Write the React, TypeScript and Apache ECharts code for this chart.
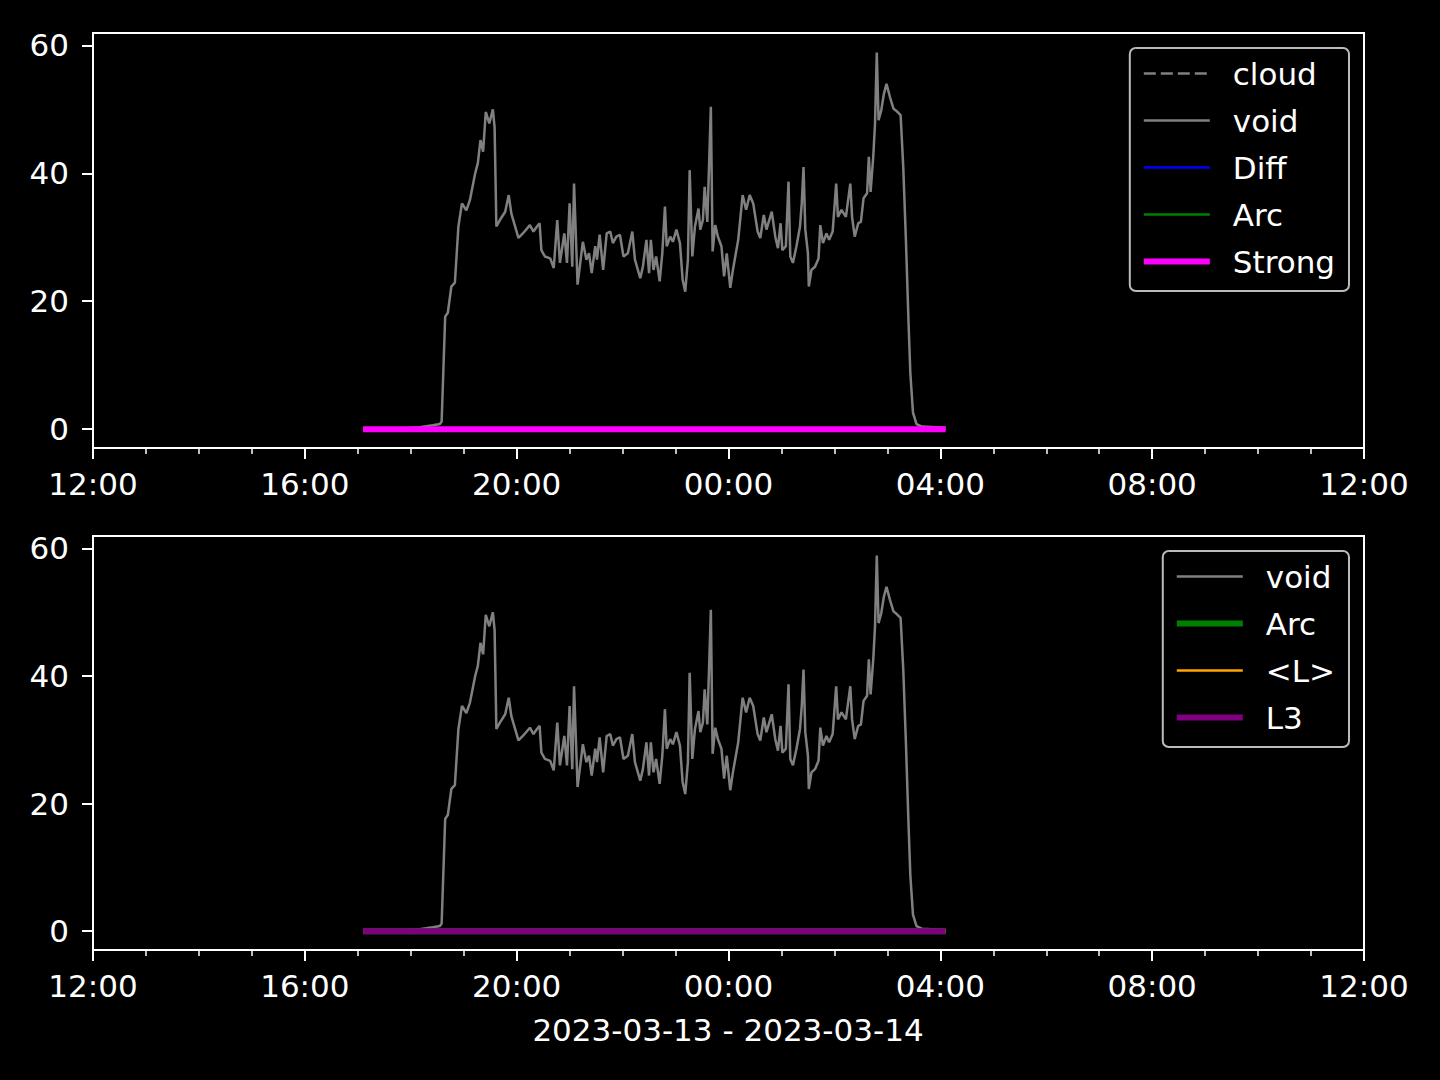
import React, { useEffect, useRef } from "react";
import * as echarts from "echarts";

// ---- axis ticks ----
const xMin = "2023-03-13 12:00";
const xMax = "2023-03-14 12:00";
const xTickLabels = [
  "2023-03-13 12:00",
  "2023-03-13 16:00",
  "2023-03-13 20:00",
  "2023-03-14 00:00",
  "2023-03-14 04:00",
  "2023-03-14 08:00",
  "2023-03-14 12:00",
];
const yTickValues = [0, 20, 40, 60];
const yMin = -2.95;
const yMax = 61.95;
const dateLabel = "2023-03-13 - 2023-03-14";

// ---- series data ----
const flatTimes = ["2023-03-13 17:06", "2023-03-14 04:06"];
const cloudValues = [0, 0];
const diffValues = [0, 0];
const arcValues = [0, 0];
const strongValues = [0, 0];
const lAvgValues = [0, 0];
const l3Values = [0, 0];

const voidTimes = [
  "2023-03-13 17:06", "2023-03-13 17:50", "2023-03-13 18:10", "2023-03-13 18:25", "2023-03-13 18:33",
  "2023-03-13 18:35", "2023-03-13 18:39", "2023-03-13 18:42", "2023-03-13 18:46", "2023-03-13 18:50",
  "2023-03-13 18:54", "2023-03-13 18:58", "2023-03-13 19:03", "2023-03-13 19:07", "2023-03-13 19:13",
  "2023-03-13 19:16", "2023-03-13 19:19", "2023-03-13 19:22", "2023-03-13 19:25", "2023-03-13 19:29",
  "2023-03-13 19:33", "2023-03-13 19:35", "2023-03-13 19:37", "2023-03-13 19:41", "2023-03-13 19:47",
  "2023-03-13 19:51", "2023-03-13 19:54", "2023-03-13 20:02", "2023-03-13 20:07", "2023-03-13 20:15",
  "2023-03-13 20:19", "2023-03-13 20:23", "2023-03-13 20:26", "2023-03-13 20:28", "2023-03-13 20:32",
  "2023-03-13 20:38", "2023-03-13 20:42", "2023-03-13 20:46", "2023-03-13 20:49", "2023-03-13 20:54",
  "2023-03-13 20:57", "2023-03-13 21:00", "2023-03-13 21:03", "2023-03-13 21:05", "2023-03-13 21:09",
  "2023-03-13 21:15", "2023-03-13 21:19", "2023-03-13 21:22", "2023-03-13 21:25", "2023-03-13 21:29",
  "2023-03-13 21:31", "2023-03-13 21:34", "2023-03-13 21:38", "2023-03-13 21:42", "2023-03-13 21:46",
  "2023-03-13 21:49", "2023-03-13 21:53", "2023-03-13 21:57", "2023-03-13 22:01", "2023-03-13 22:06",
  "2023-03-13 22:11", "2023-03-13 22:14", "2023-03-13 22:20", "2023-03-13 22:23", "2023-03-13 22:27",
  "2023-03-13 22:30", "2023-03-13 22:32", "2023-03-13 22:35", "2023-03-13 22:38", "2023-03-13 22:42",
  "2023-03-13 22:45", "2023-03-13 22:48", "2023-03-13 22:50", "2023-03-13 22:54", "2023-03-13 22:57",
  "2023-03-13 23:01", "2023-03-13 23:05", "2023-03-13 23:08", "2023-03-13 23:11", "2023-03-13 23:14",
  "2023-03-13 23:16", "2023-03-13 23:19", "2023-03-13 23:22", "2023-03-13 23:26", "2023-03-13 23:28",
  "2023-03-13 23:31", "2023-03-13 23:33", "2023-03-13 23:36", "2023-03-13 23:40", "2023-03-13 23:42",
  "2023-03-13 23:45", "2023-03-13 23:48", "2023-03-13 23:52", "2023-03-13 23:55", "2023-03-13 23:58",
  "2023-03-14 00:02", "2023-03-14 00:05", "2023-03-14 00:11", "2023-03-14 00:16", "2023-03-14 00:20",
  "2023-03-14 00:24", "2023-03-14 00:28", "2023-03-14 00:33", "2023-03-14 00:36", "2023-03-14 00:40",
  "2023-03-14 00:43", "2023-03-14 00:49", "2023-03-14 00:53", "2023-03-14 00:56", "2023-03-14 00:59",
  "2023-03-14 01:01", "2023-03-14 01:05", "2023-03-14 01:08", "2023-03-14 01:10", "2023-03-14 01:13",
  "2023-03-14 01:17", "2023-03-14 01:21", "2023-03-14 01:23", "2023-03-14 01:25", "2023-03-14 01:27",
  "2023-03-14 01:30", "2023-03-14 01:31", "2023-03-14 01:34", "2023-03-14 01:38", "2023-03-14 01:42",
  "2023-03-14 01:44", "2023-03-14 01:47", "2023-03-14 01:51", "2023-03-14 01:54", "2023-03-14 01:58",
  "2023-03-14 02:02", "2023-03-14 02:04", "2023-03-14 02:08", "2023-03-14 02:13", "2023-03-14 02:18",
  "2023-03-14 02:20", "2023-03-14 02:23", "2023-03-14 02:27", "2023-03-14 02:30", "2023-03-14 02:33",
  "2023-03-14 02:37", "2023-03-14 02:39", "2023-03-14 02:41", "2023-03-14 02:44", "2023-03-14 02:46",
  "2023-03-14 02:48", "2023-03-14 02:50", "2023-03-14 02:53", "2023-03-14 02:56", "2023-03-14 02:59",
  "2023-03-14 03:03", "2023-03-14 03:07", "2023-03-14 03:10", "2023-03-14 03:15", "2023-03-14 03:18",
  "2023-03-14 03:21", "2023-03-14 03:24", "2023-03-14 03:26", "2023-03-14 03:29", "2023-03-14 03:33",
  "2023-03-14 03:39", "2023-03-14 04:06",
];
const voidValues = [
  0.1, 0.1, 0.3, 0.6, 0.8,
  1.2, 17.6, 18.2, 22.3, 22.9,
  31.7, 35.3, 34.2, 35.8, 40.0,
  41.6, 45.2, 43.4, 49.6, 47.8,
  50.0, 47.2, 31.7, 32.7, 34.0,
  36.6, 33.7, 29.9, 30.6, 31.9,
  30.9, 31.7, 32.2, 28.0, 27.0,
  26.7, 25.2, 32.7, 26.0, 30.6,
  26.0, 35.3, 25.4, 38.4, 22.6,
  29.3, 26.5, 27.5, 24.4, 28.6,
  26.5, 30.4, 24.9, 30.6, 30.9,
  29.1, 30.1, 30.4, 27.0, 27.5,
  30.9, 26.5, 23.6, 25.4, 29.6,
  24.4, 29.6, 24.9, 27.0, 23.1,
  27.5, 34.8, 28.6, 30.1, 29.3,
  31.2, 29.1, 23.4, 21.5, 26.5,
  40.5, 27.0, 31.7, 34.5, 31.2,
  32.7, 37.9, 32.4, 50.4, 27.8,
  31.9, 30.1, 28.6, 23.9, 27.5,
  22.1, 24.9, 29.6, 36.6, 34.3,
  36.6, 35.3, 30.9, 29.9, 33.5,
  31.2, 34.0, 30.1, 28.3, 32.2,
  28.0, 28.6, 38.7, 27.0, 26.0,
  28.6, 31.7, 35.3, 41.0, 31.2,
  27.5, 22.3, 24.9, 25.4, 26.7,
  31.9, 29.1, 30.6, 29.6, 30.9,
  38.4, 33.2, 34.3, 33.2, 38.4,
  33.2, 30.1, 32.2, 32.4, 36.1,
  36.9, 42.6, 37.1, 42.6, 47.8,
  58.9, 48.3, 49.8, 52.4, 54.0,
  51.9, 50.1, 49.8, 49.1, 41.0,
  29.6, 16.6, 8.8, 2.6, 0.8,
  0.4, 0.2,
];

const topLegend = ["cloud", "void", "Diff", "Arc", "Strong"];
const bottomLegend = ["void_b", "Arc_b", "<L>", "L3"];

// ---- helpers ----
const ts = (s: string) => new Date(s.replace(" ", "T") + ":00").getTime();
const pairs = (times: string[], vals: number[]) => times.map((t, i) => [ts(t), vals[i]]);
const pad = (n: number) => (n < 10 ? "0" + n : "" + n);
const fmtTime = (v: number) => {
  const d = new Date(v);
  return pad(d.getHours()) + ":" + pad(d.getMinutes());
};

const FONT = "DejaVu Sans";
const FS = 31;

function buildOption() {
  const majorTicks = xTickLabels.map(ts);
  const minorTicks: number[] = [];
  for (let t = ts(xMin); t <= ts(xMax); t += 3600000) minorTicks.push(t);

  const grids = [
    { left: 93, top: 33, width: 1271, height: 415 },
    { left: 93, top: 536, width: 1271, height: 414 },
  ].map((g) => ({
    ...g,
    show: true,
    borderColor: "#ffffff",
    borderWidth: 2,
    backgroundColor: "transparent",
    containLabel: false,
    outerBoundsMode: "none",
  }));

  const xAxes: any[] = [];
  [0, 1].forEach((gi) => {
    xAxes.push({
      type: "value",
      gridIndex: gi,
      min: ts(xMin),
      max: ts(xMax),
      position: "bottom",
      axisLine: { show: false, onZero: false },
      splitLine: { show: false },
      axisTick: {
        show: true,
        customValues: majorTicks,
        length: 11,
        lineStyle: { color: "#ffffff", width: 2 },
      },
      axisLabel: {
        customValues: majorTicks,
        formatter: (v: number) => fmtTime(v),
        color: "#ffffff",
        fontSize: FS,
        fontFamily: FONT,
        margin: 20,
        showMinLabel: true,
        showMaxLabel: true,
        hideOverlap: false,
      },
    });
    xAxes.push({
      type: "value",
      gridIndex: gi,
      min: ts(xMin),
      max: ts(xMax),
      position: "bottom",
      axisLine: { show: false, onZero: false },
      splitLine: { show: false },
      axisLabel: { show: false },
      axisTick: {
        show: true,
        customValues: minorTicks,
        length: 6,
        lineStyle: { color: "#ffffff", width: 1.5 },
      },
    });
  });

  const yAxes = [0, 1].map((gi) => ({
    type: "value",
    gridIndex: gi,
    min: yMin,
    max: yMax,
    axisLine: { show: false },
    splitLine: { show: false },
    axisTick: {
      show: true,
      customValues: yTickValues,
      length: 11,
      lineStyle: { color: "#ffffff", width: 2 },
    },
    axisLabel: {
      customValues: yTickValues,
      color: "#ffffff",
      fontSize: FS,
      fontFamily: FONT,
      margin: 24,
    },
  }));

  const line = (
    name: string,
    data: any[],
    color: string,
    width: number,
    grid: number,
    type: any = "solid"
  ) => ({
    type: "line",
    name,
    data,
    xAxisIndex: grid * 2,
    yAxisIndex: grid,
    symbol: "none",
    showSymbol: false,
    silent: true,
    lineStyle: { color, width, type },
    itemStyle: { color },
    animation: false,
  });

  const flat = (vals: number[]) => pairs(flatTimes, vals);
  const voidData = pairs(voidTimes, voidValues);

  const series = [
    line("cloud", flat(cloudValues), "#808080", 2.5, 0, [12, 5]),
    line("void", voidData, "#808080", 2.5, 0),
    line("Diff", flat(diffValues), "#0000ff", 2.5, 0),
    line("Arc", flat(arcValues), "#008000", 2.5, 0),
    line("Strong", flat(strongValues), "#ff00ff", 6, 0),
    line("void_b", voidData, "#808080", 2.5, 1),
    line("Arc_b", flat(arcValues), "#008000", 6, 1),
    line("<L>", flat(lAvgValues), "#ffa500", 2.5, 1),
    line("L3", flat(l3Values), "#800080", 6, 1),
  ];

  const legendBase = {
    orient: "vertical",
    align: "left",
    itemWidth: 66,
    itemHeight: 14,
    itemGap: 16,
    padding: [10, 14, 14, 11],
    borderColor: "#bbbbbb",
    borderWidth: 2,
    borderRadius: 6,
    backgroundColor: "#000000",
    selectedMode: false,
    textStyle: {
      color: "#ffffff",
      fontSize: FS,
      fontFamily: FONT,
      lineHeight: 31,
      padding: [0, 0, 0, 18],
    },
    itemStyle: { opacity: 0 },
    lineStyle: { width: "inherit" },
    formatter: (name: string) => name.replace(/_b$/, ""),
  };

  return {
    animation: false,
    backgroundColor: "#000000",
    grid: grids,
    xAxis: xAxes,
    yAxis: yAxes,
    legend: [
      { ...legendBase, right: 91, top: 48, data: topLegend },
      { ...legendBase, right: 91, top: 551, data: bottomLegend },
    ],
    graphic: [
      {
        type: "text",
        x: 728,
        y: 1030,
        style: {
          text: dateLabel,
          fill: "#ffffff",
          font: `${FS}px "${FONT}"`,
          align: "center",
          verticalAlign: "middle",
        },
      },
    ],
    series,
  };
}

export default function App() {
  const ref = useRef<HTMLDivElement>(null);
  useEffect(() => {
    document.body.style.margin = "0";
    document.body.style.background = "#000";
    if (!ref.current) return;
    const chart = echarts.init(ref.current, undefined, { renderer: "svg" });
    chart.setOption(buildOption() as any);
    return () => chart.dispose();
  }, []);
  return <div ref={ref} style={{ width: 1440, height: 1080, background: "#000" }} />;
}
